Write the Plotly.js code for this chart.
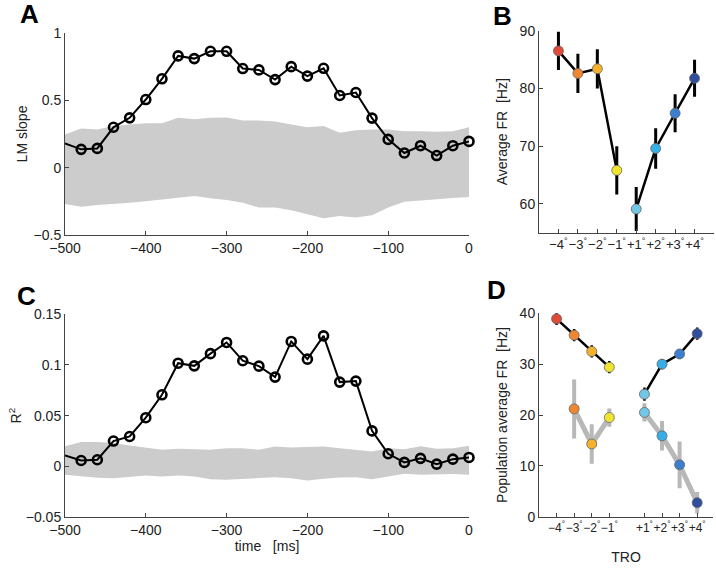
<!DOCTYPE html>
<html><head><meta charset="utf-8">
<script src="https://cdn.plot.ly/plotly-3.0.1.min.js"></script>
<style>html,body{margin:0;padding:0;background:#fff}#plot{width:716px;height:570px}</style>
</head><body><div id="plot"></div>
<script>
// ---- data ----
const timeMs = [-500,-480,-460,-440,-420,-400,-380,-360,-340,-320,-300,-280,-260,-240,-220,-200,-180,-160,-140,-120,-100,-80,-60,-40,-20,0];
const lmSlope = [0.18,0.136,0.143,0.30,0.37,0.506,0.66,0.83,0.81,0.864,0.864,0.736,0.726,0.654,0.75,0.68,0.738,0.536,0.558,0.368,0.21,0.109,0.163,0.09,0.163,0.195];
const lmBandUpper = [0.247,0.29,0.284,0.31,0.32,0.33,0.33,0.37,0.36,0.37,0.373,0.35,0.35,0.343,0.32,0.30,0.31,0.26,0.277,0.284,0.284,0.27,0.27,0.267,0.27,0.30];
const lmBandLower = [-0.27,-0.29,-0.277,-0.27,-0.26,-0.25,-0.235,-0.22,-0.21,-0.227,-0.24,-0.26,-0.296,-0.296,-0.316,-0.345,-0.375,-0.358,-0.37,-0.353,-0.296,-0.254,-0.247,-0.235,-0.225,-0.217];
const rSquared = [0.0108,0.0059,0.0066,0.025,0.0295,0.048,0.0705,0.1016,0.099,0.111,0.122,0.104,0.0987,0.0879,0.123,0.1056,0.1285,0.083,0.084,0.035,0.0125,0.004,0.008,0.0023,0.0072,0.0089];
const r2BandUpper = [0.020,0.024,0.024,0.023,0.0207,0.0187,0.0164,0.0174,0.017,0.0164,0.018,0.018,0.0164,0.0197,0.0187,0.019,0.0197,0.018,0.0164,0.0148,0.018,0.017,0.020,0.0174,0.018,0.0204];
const r2BandLower = [-0.0082,-0.0098,-0.011,-0.0115,-0.0105,-0.0089,-0.0098,-0.0089,-0.0098,-0.0125,-0.013,-0.012,-0.0115,-0.0105,-0.0115,-0.0138,-0.012,-0.0108,-0.0105,-0.0125,-0.0098,-0.0072,-0.0082,-0.0075,-0.0075,-0.0082];

const troLabels = ["−4<sup>°</sup>","−3<sup>°</sup>","−2<sup>°</sup>","−1<sup>°</sup>","+1<sup>°</sup>","+2<sup>°</sup>","+3<sup>°</sup>","+4<sup>°</sup>"];
const troColors = ["#e04a38","#ef8632","#f4b22c","#f1e42e","#72c6e6","#36aee6","#3c7fd0","#2f4f9c"];
// Panel B
const posB = [1,2,3,4,5,6,7,8];
const avgFR = [86.5,82.6,83.4,65.8,59.1,69.6,75.7,81.75];
const avgFRerr = [3.3,3.4,3.4,4.2,3.8,3.5,3.3,3.2];
// Panel D
const posD = [1,2,3,4,6,7,8,9];
const popFRblack = [38.9,35.7,32.5,29.4,24.1,30.0,32.0,36.0];
const popFRblackErr = [1.2,1.2,1.2,1.2,1.3,1.0,1.0,1.2];
const popFRgrey = [null,21.2,14.3,19.5,20.5,15.9,10.2,2.75];
const popFRgreyErr = [null,5.8,3.9,1.8,1.8,2.9,4.6,2.1];

// ---- helpers ----
const W = 716, H = 570;
const dx = (a,b)=>[a/W, b/W];
const dy = (top,bot)=>[1-bot/H, 1-top/H];
const FONT = "Liberation Sans, Arial, sans-serif";
const axBase = {showline:true, linecolor:"#444", linewidth:1, ticks:"inside", ticklen:4, tickcolor:"#444",
  showgrid:false, zeroline:false, mirror:false, tickfont:{family:FONT,size:14,color:"#222"}, fixedrange:true, automargin:false};

const traces = [];
const ringMarker = ()=>({symbol:"circle-open", size:timeMs.map((t,i)=> i===0 ? 0 : 9), color:"#000", opacity:1, line:{width:2.6,color:"#000"}});
// A band
traces.push({x:timeMs, y:lmBandLower, xaxis:"x", yaxis:"y", mode:"lines", line:{width:0,color:"#cccccc"}, showlegend:false});
traces.push({x:timeMs, y:lmBandUpper, xaxis:"x", yaxis:"y", mode:"lines", line:{width:0,color:"#cccccc"}, fill:"tonexty", fillcolor:"#cccccc", showlegend:false});
traces.push({x:timeMs, y:lmSlope, xaxis:"x", yaxis:"y", mode:"lines+markers", line:{color:"#000",width:2},
  marker:ringMarker(), cliponaxis:false, showlegend:false});
// C band
traces.push({x:timeMs, y:r2BandLower, xaxis:"x2", yaxis:"y2", mode:"lines", line:{width:0,color:"#cccccc"}, showlegend:false});
traces.push({x:timeMs, y:r2BandUpper, xaxis:"x2", yaxis:"y2", mode:"lines", line:{width:0,color:"#cccccc"}, fill:"tonexty", fillcolor:"#cccccc", showlegend:false});
traces.push({x:timeMs, y:rSquared, xaxis:"x2", yaxis:"y2", mode:"lines+markers", line:{color:"#000",width:2},
  marker:ringMarker(), cliponaxis:false, showlegend:false});

// B: lines (two segments), error bars, markers
const bX = [1,2,3,4,null,5,6,7,8];
const bY = [avgFR[0],avgFR[1],avgFR[2],avgFR[3],null,avgFR[4],avgFR[5],avgFR[6],avgFR[7]];
traces.push({x:posB, y:avgFR, xaxis:"x3", yaxis:"y3", mode:"markers", marker:{size:1,color:"rgba(0,0,0,0)"},
  error_y:{type:"data", array:avgFRerr, visible:true, color:"#000", thickness:3, width:0}, showlegend:false});
traces.push({x:bX, y:bY, xaxis:"x3", yaxis:"y3", mode:"lines", line:{color:"#000",width:2.5}, connectgaps:false, showlegend:false});
traces.push({x:posB, y:avgFR, xaxis:"x3", yaxis:"y3", mode:"markers", cliponaxis:false,
  marker:{size:10, color:troColors, line:{width:0.8,color:"#666"}}, showlegend:false});

// D grey series
const gX = [2,3,4,null,6,7,8,9];
const gY = [popFRgrey[1],popFRgrey[2],popFRgrey[3],null,popFRgrey[4],popFRgrey[5],popFRgrey[6],popFRgrey[7]];
traces.push({x:posD, y:popFRgrey, xaxis:"x4", yaxis:"y4", mode:"markers", marker:{size:1,color:"rgba(0,0,0,0)"},
  error_y:{type:"data", array:popFRgreyErr, visible:true, color:"#b8b8b8", thickness:4, width:0}, showlegend:false});
traces.push({x:gX, y:gY, xaxis:"x4", yaxis:"y4", mode:"lines", line:{color:"#b8b8b8",width:5}, connectgaps:false, showlegend:false});
traces.push({x:posD, y:popFRgrey, xaxis:"x4", yaxis:"y4", mode:"markers", cliponaxis:false,
  marker:{size:10, color:troColors, line:{width:0.8,color:"#666"}}, showlegend:false});
// D black series
const kX = [1,2,3,4,null,6,7,8,9];
const kY = [popFRblack[0],popFRblack[1],popFRblack[2],popFRblack[3],null,popFRblack[4],popFRblack[5],popFRblack[6],popFRblack[7]];
traces.push({x:posD, y:popFRblack, xaxis:"x4", yaxis:"y4", mode:"markers", marker:{size:1,color:"rgba(0,0,0,0)"},
  error_y:{type:"data", array:popFRblackErr, visible:true, color:"#000", thickness:2.5, width:0}, showlegend:false});
traces.push({x:kX, y:kY, xaxis:"x4", yaxis:"y4", mode:"lines", line:{color:"#000",width:2.5}, connectgaps:false, showlegend:false});
traces.push({x:posD, y:popFRblack, xaxis:"x4", yaxis:"y4", mode:"markers", cliponaxis:false,
  marker:{size:10, color:troColors, line:{width:0.8,color:"#666"}}, showlegend:false});

const titleFont = {family:FONT,size:14,color:"#222"};
const xTimeTicks = {tickmode:"array", tickvals:[-500,-400,-300,-200,-100,0], ticktext:["−500","−400","−300","−200","−100","0"]};
const letter = (t,x,y)=>({text:"<b>"+t+"</b>", x:x/W, y:1-y/H, xref:"paper", yref:"paper", xanchor:"center", yanchor:"middle",
  showarrow:false, font:{family:FONT,size:26,color:"#000"}});
const layout = {
  width:W, height:H, margin:{l:0,r:0,t:0,b:0}, paper_bgcolor:"#fff", plot_bgcolor:"#fff", showlegend:false,
  xaxis: Object.assign({}, axBase, xTimeTicks, {domain:dx(65,469), range:[-500,0], anchor:"y"}),
  yaxis: Object.assign({}, axBase, {domain:dy(33,235), range:[-0.5,1], anchor:"x", tickmode:"array",
    tickvals:[-0.5,0,0.5,1], ticktext:["−0.5","0","0.5","1"], title:{text:"LM slope", font:titleFont, standoff:2}}),
  xaxis2: Object.assign({}, axBase, xTimeTicks, {domain:dx(65,469), range:[-500,0], anchor:"y2",
    title:{text:"time &nbsp; [ms]", font:titleFont, standoff:2}}),
  yaxis2: Object.assign({}, axBase, {domain:dy(314,517.3), range:[-0.05,0.15], anchor:"x2", tickmode:"array",
    tickvals:[-0.05,0,0.05,0.1,0.15], ticktext:["−0.05","0","0.05","0.1","0.15"], title:{text:"R<sup>2</sup>", font:titleFont, standoff:0}}),
  xaxis3: Object.assign({}, axBase, {domain:dx(539,714), range:[0,9], anchor:"y3", tickmode:"array", tickangle:0,
    tickvals:posB, ticktext:troLabels, tickfont:{family:FONT,size:13,color:"#222"}}),
  yaxis3: Object.assign({}, axBase, {domain:dy(30.7,232.7), range:[55,90], anchor:"x3", tickmode:"array",
    tickvals:[60,70,80,90], ticktext:["60","70","80","90"], title:{text:"Average FR &nbsp;[Hz]", font:titleFont, standoff:8}}),
  xaxis4: Object.assign({}, axBase, {domain:dx(539,713), range:[0,9.9], anchor:"y4", tickmode:"array", tickangle:0,
    tickvals:posD, ticktext:troLabels, tickfont:{family:FONT,size:12,color:"#222"}, title:{text:"TRO", font:titleFont, standoff:18}}),
  yaxis4: Object.assign({}, axBase, {domain:dy(313.3,516.7), range:[0,40], anchor:"x4", tickmode:"array",
    tickvals:[0,10,20,30,40], ticktext:["0","10","20","30","40"], title:{text:"Population average FR &nbsp;[Hz]", font:titleFont, standoff:8}}),
  annotations: [ letter("A",29,14), letter("B",502,16), letter("C",26,296), letter("D",497,290) ]
};
Plotly.newPlot("plot", traces, layout, {staticPlot:true, displayModeBar:false});
</script></body></html>
